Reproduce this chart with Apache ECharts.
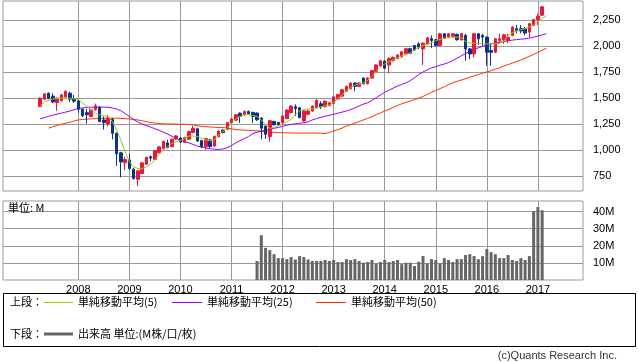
<!DOCTYPE html>
<html><head><meta charset="utf-8">
<script src="https://cdn.jsdelivr.net/npm/echarts@6/dist/echarts.min.js"></script>
<style>html,body{margin:0;padding:0;background:#fff}#c{width:638px;height:362px}</style>
</head><body><div id="c"></div>
<script>
// month index: 0 = Jan 2008 (monthly candles)
const candleStart = -9; // Apr 2007
const opens = [1420,1489,1546,1518,1457,1476,1511,1546,1492,1473,
1393,1360,1323,1387,1413,1290,1252,1297,1162,975,
879,905,818,722,776,866,937,911,976,1018,
1070,1034,1110,1118,1075,1105,1169,1205,1092,1033,
1098,1040,1130,1192,1200,1260,1288,1355,1340,1372,
1362,1356,1308,1230,1131,1276,1266,1265,1303,1360,
1417,1407,1281,1344,1376,1407,1445,1417,1429,1448,
1492,1518,1565,1590,1644,1612,1691,1637,1691,1754,
1808,1855,1817,1858,1880,1896,1925,1973,2003,2019,
1971,2019,2068,2058,2003,2116,2084,2093,2110,2058,
2100,1971,1923,2116,2100,2084,1955,1939,2052,2058,
2052,2100,2165,2165,2165,2132,2197,2252,2294];
const closes = [1498,1540,1498,1462,1498,1530,1562,1489,1470,1393,
1330,1340,1387,1426,1275,1265,1307,1162,965,888,
911,824,730,802,879,930,925,995,1032,1085,
1025,1105,1137,1078,1122,1179,1210,1088,1034,1110,
1035,1132,1183,1170,1265,1300,1340,1325,1372,1350,
1324,1292,1211,1152,1283,1244,1244,1328,1385,1423,
1398,1313,1376,1376,1423,1477,1417,1470,1455,1511,
1533,1580,1612,1644,1612,1644,1637,1691,1763,1817,
1858,1786,1880,1890,1912,1943,1973,1930,1961,1987,
2026,2077,2052,2003,2116,2077,2116,2116,2058,2116,
1971,1923,2116,2068,2084,1939,1939,2068,2068,2106,
2084,2181,2148,2142,2123,2213,2252,2284,2374];
const highs = [1507,1546,1555,1545,1505,1540,1575,1560,1530,1482,
1402,1396,1395,1446,1420,1323,1339,1310,1170,985,
937,965,830,810,890,940,950,1002,1040,1092,
1100,1112,1145,1125,1128,1186,1235,1215,1100,1118,
1110,1140,1190,1200,1270,1308,1346,1362,1380,1380,
1370,1362,1315,1238,1290,1282,1272,1335,1392,1430,
1440,1415,1382,1382,1430,1492,1470,1478,1462,1518,
1540,1588,1620,1652,1650,1652,1698,1698,1770,1825,
1865,1862,1888,1898,1920,1950,1980,1980,2010,2035,
2034,2084,2100,2066,2124,2123,2123,2123,2118,2124,
2116,1978,2124,2122,2116,2090,2019,2075,2116,2116,
2116,2188,2200,2200,2180,2220,2260,2310,2380];
const lows = [1412,1480,1488,1450,1378,1465,1505,1462,1455,1360,
1318,1255,1315,1378,1268,1198,1230,1104,850,740,
808,815,718,657,770,860,893,905,970,1005,
1018,1028,1100,1070,1068,1098,1162,1080,1020,1005,
1020,1032,1122,1160,1192,1252,1280,1262,1332,1342,
1262,1280,1105,1110,1082,1236,1236,1240,1296,1352,
1328,1305,1272,1336,1368,1400,1395,1410,1420,1440,
1485,1510,1558,1582,1565,1605,1630,1630,1684,1746,
1800,1778,1738,1850,1872,1888,1918,1922,1954,1970,
1816,2012,1980,1996,1996,2070,2077,2086,2050,2050,
1858,1874,1890,2010,2000,1810,1810,1932,2026,2020,
2026,2092,2120,2120,2100,2080,2190,2200,2286];

const ma5Start = -9;
const ma5 = [1426,1460,1478,1490,1495,1500,1500,1497,1492,1484,
1452,1420,1387,1355,1339,1329,1323,1275,1194,1098,
985,889,840,824,824,840,866,905,963,1001,
1034,1066,1082,1091,1110,1136,1136,1130,1114,1098,
1090,1100,1146,1178,1210,1259,1300,1323,1339,1339,
1333,1323,1291,1243,1210,1217,1235,1250,1270,1297,
1340,1376,1390,1392,1396,1405,1415,1425,1435,1460,
1495,1530,1570,1600,1625,1635,1644,1670,1710,1755,
1800,1825,1849,1865,1885,1905,1915,1935,1962,1985,
2003,2015,2030,2050,2062,2072,2077,2080,2084,2082,
2040,2027,2026,2024,2020,2019,2019,2019,2024,2045,
2100,2125,2145,2155,2165,2180,2205,2230,2262,2290];
const ma25Start = -9;
const ma25 = [1300,1312,1325,1336,1345,1355,1365,1375,1388,1400,
1405,1410,1412,1413,1413,1413,1412,1405,1395,1378,
1352,1323,1295,1270,1250,1235,1222,1205,1190,1173,
1155,1133,1110,1095,1082,1070,1055,1040,1030,1020,
1014,1010,1008,1012,1025,1045,1070,1091,1110,1130,
1160,1172,1182,1192,1202,1210,1218,1228,1240,1248,
1253,1259,1263,1272,1290,1303,1315,1325,1335,1344,
1355,1365,1376,1390,1405,1425,1442,1455,1478,1502,
1530,1555,1575,1595,1615,1630,1645,1666,1695,1725,
1750,1770,1790,1800,1815,1826,1840,1860,1880,1905,
1925,1950,1965,1982,1995,2008,2019,2026,2035,2042,
2050,2055,2060,2064,2068,2075,2084,2093,2106,2116];
const ma50Start = -7;
const ma50 = [1212,1225,1237,1248,1258,1268,1280,1290,
1295,1298,1300,1302,1304,1306,1307,1307,1307,1305,
1302,1299,1295,1290,1282,1274,1266,1260,1256,1253,
1252,1251,1250,1249,1248,1246,1243,1235,1228,1225,
1222,1220,1218,1216,1214,1205,1198,1195,1192,1190,
1188,1186,1184,1178,1174,1172,1170,1168,1166,1165,
1164,1164,1164,1164,1164,1164,1162,1160,1170,1185,
1198,1212,1232,1245,1260,1275,1290,1305,1320,1340,
1358,1375,1392,1410,1428,1445,1458,1470,1485,1498,
1515,1535,1555,1572,1590,1608,1628,1645,1660,1672,
1685,1700,1712,1725,1738,1750,1762,1775,1790,1808,
1820,1835,1850,1865,1882,1900,1918,1938,1958,1978];

const volStart = 42; // Jul 2011, in millions
const volumes = [11.1,26.2,18.8,17.5,15.1,12.8,12.8,12.2,13.4,12.0,
14.0,13.4,12.0,11.1,11.1,11.1,11.7,11.1,11.7,10.5,
10.5,12.2,11.7,12.2,11.1,10.1,10.5,11.7,9.7,10.5,
11.7,10.5,11.1,11.7,9.3,10.1,10.1,8.2,10.7,14.0,
9.7,12.2,11.7,9.7,12.8,11.7,10.5,12.2,12.2,14.6,
15.1,14.0,12.2,14.0,18.1,16.3,15.1,12.8,12.8,14.6,
11.7,11.1,12.8,11.7,14.0,40.2,42.7,40.8];

const yearTicks = [0,12,24,36,48,60,72,84,96,108];
const yearLabels = ['2008','2009','2010','2011','2012','2013','2014','2015','2016','2017'];
const priceTicks = [750,1000,1250,1500,1750,2000,2250];
const volTicks = [10,20,30,40];

const candleData = opens.map((o,k)=>[candleStart+k, o, closes[k], lows[k], highs[k]]);
const lineData = (start, arr)=>arr.map((v,k)=>[start+k, v]);
const volData = volumes.map((v,k)=>[volStart+k, v]);

const XMIN = -17.7, XMAX = 118.6;
const GRID = '#999';
const NUMFONT = "'Liberation Sans','Noto Sans CJK JP',sans-serif";
const JPFONT = "'Noto Sans CJK JP',sans-serif";
const fmtComma = v => String(v).replace(/\B(?=(\d{3})+(?!\d))/g, ',');

const chart = echarts.init(document.getElementById('c'), null, {renderer:'canvas'});
chart.setOption({
  animation:false,
  backgroundColor:'#fff',
  grid:[
    {left:3, right:55, top:1, height:190, show:true, borderColor:GRID, borderWidth:1},
    {left:3, right:55, top:201, height:79, show:true, borderColor:GRID, borderWidth:1}
  ],
  xAxis:[
    {type:'value', gridIndex:0, min:XMIN, max:XMAX,
     axisLine:{show:false}, axisLabel:{show:false},
     axisTick:{show:false, customValues:yearTicks},
     splitLine:{show:true, lineStyle:{color:GRID, width:1}}},
    {type:'value', gridIndex:1, min:XMIN, max:XMAX,
     axisLine:{show:false},
     axisTick:{show:false, customValues:yearTicks},
     axisLabel:{show:true, customValues:yearTicks, margin:4, color:'#000', fontSize:11, fontFamily:NUMFONT,
       formatter:v=>{const k=yearTicks.indexOf(Math.round(v)); return k>=0?yearLabels[k]:'';}},
     splitLine:{show:true, lineStyle:{color:GRID, width:1}}}
  ],
  yAxis:[
    {type:'value', gridIndex:0, position:'right', min:609, max:2430,
     axisLine:{show:false},
     axisTick:{show:true, length:4, customValues:priceTicks, lineStyle:{color:GRID}},
     axisLabel:{show:true, customValues:priceTicks, margin:10, color:'#000', fontSize:11, fontFamily:NUMFONT, formatter:v=>fmtComma(v)},
     splitLine:{show:true, lineStyle:{color:GRID, width:1}}},
    {type:'value', gridIndex:1, position:'right', min:0, max:46.2,
     axisLine:{show:false},
     axisTick:{show:true, length:4, customValues:volTicks, lineStyle:{color:GRID}},
     axisLabel:{show:true, customValues:volTicks, margin:10, color:'#000', fontSize:11, fontFamily:NUMFONT, formatter:v=>v+'M'},
     splitLine:{show:true, lineStyle:{color:GRID, width:1}}}
  ],
  series:[
    {type:'line', xAxisIndex:0, yAxisIndex:0, data:lineData(ma50Start, ma50), showSymbol:false, symbol:'none',
     lineStyle:{color:'#ff3300', width:1}, z:2},
    {type:'line', xAxisIndex:0, yAxisIndex:0, data:lineData(ma25Start, ma25), showSymbol:false, symbol:'none',
     lineStyle:{color:'#9900ff', width:1}, z:2},
    {type:'candlestick', xAxisIndex:0, yAxisIndex:0, data:candleData, encode:{x:0, y:[1,2,3,4]},
     barWidth:3,
     itemStyle:{color:'#f0143c', color0:'#0a3296', borderColor:'#f0143c', borderColor0:'#0a3296', borderWidth:1}, z:3},
    {type:'line', xAxisIndex:0, yAxisIndex:0, data:lineData(ma5Start, ma5), showSymbol:false, symbol:'none',
     lineStyle:{color:'#99cc00', width:1}, z:4},
    {type:'bar', xAxisIndex:1, yAxisIndex:1, data:volData, barWidth:3, itemStyle:{color:'#666'}}
  ],
  graphic:[
    {type:'text', left:8, top:202, style:{text:'単位: M', fontSize:11, fontFamily:JPFONT, fill:'#000'}, z:10},
    {type:'rect', shape:{x:3.5, y:293.5, width:632, height:53}, style:{fill:'#fff', stroke:'#000', lineWidth:1}, z:1},
    {type:'text', x:10, y:302, style:{text:'上段：', fontSize:11, fontFamily:JPFONT, fill:'#000', verticalAlign:'middle'}, z:10},
    {type:'line', shape:{x1:44, y1:302.5, x2:73, y2:302.5}, style:{stroke:'#99cc00', lineWidth:1}, z:10},
    {type:'text', x:78, y:302, style:{text:'単純移動平均(5)', fontSize:11, fontFamily:JPFONT, fill:'#000', verticalAlign:'middle'}, z:10},
    {type:'line', shape:{x1:172, y1:302.5, x2:202, y2:302.5}, style:{stroke:'#9900ff', lineWidth:1}, z:10},
    {type:'text', x:207, y:302, style:{text:'単純移動平均(25)', fontSize:11, fontFamily:JPFONT, fill:'#000', verticalAlign:'middle'}, z:10},
    {type:'line', shape:{x1:316, y1:302.5, x2:346, y2:302.5}, style:{stroke:'#ff3300', lineWidth:1}, z:10},
    {type:'text', x:351, y:302, style:{text:'単純移動平均(50)', fontSize:11, fontFamily:JPFONT, fill:'#000', verticalAlign:'middle'}, z:10},
    {type:'text', x:10, y:334, style:{text:'下段：', fontSize:11, fontFamily:JPFONT, fill:'#000', verticalAlign:'middle'}, z:10},
    {type:'line', shape:{x1:44, y1:334, x2:73, y2:334}, style:{stroke:'#666', lineWidth:3}, z:10},
    {type:'text', x:78, y:334, style:{text:'出来高 単位:(M株/口/枚)', fontSize:11, fontFamily:JPFONT, fill:'#000', verticalAlign:'middle'}, z:10},
    {type:'text', x:617, y:356, style:{text:'(c)Quants Research Inc.', fontSize:11, fontFamily:NUMFONT, fill:'#333', align:'right', verticalAlign:'middle'}, z:10}
  ]
});
</script></body></html>
